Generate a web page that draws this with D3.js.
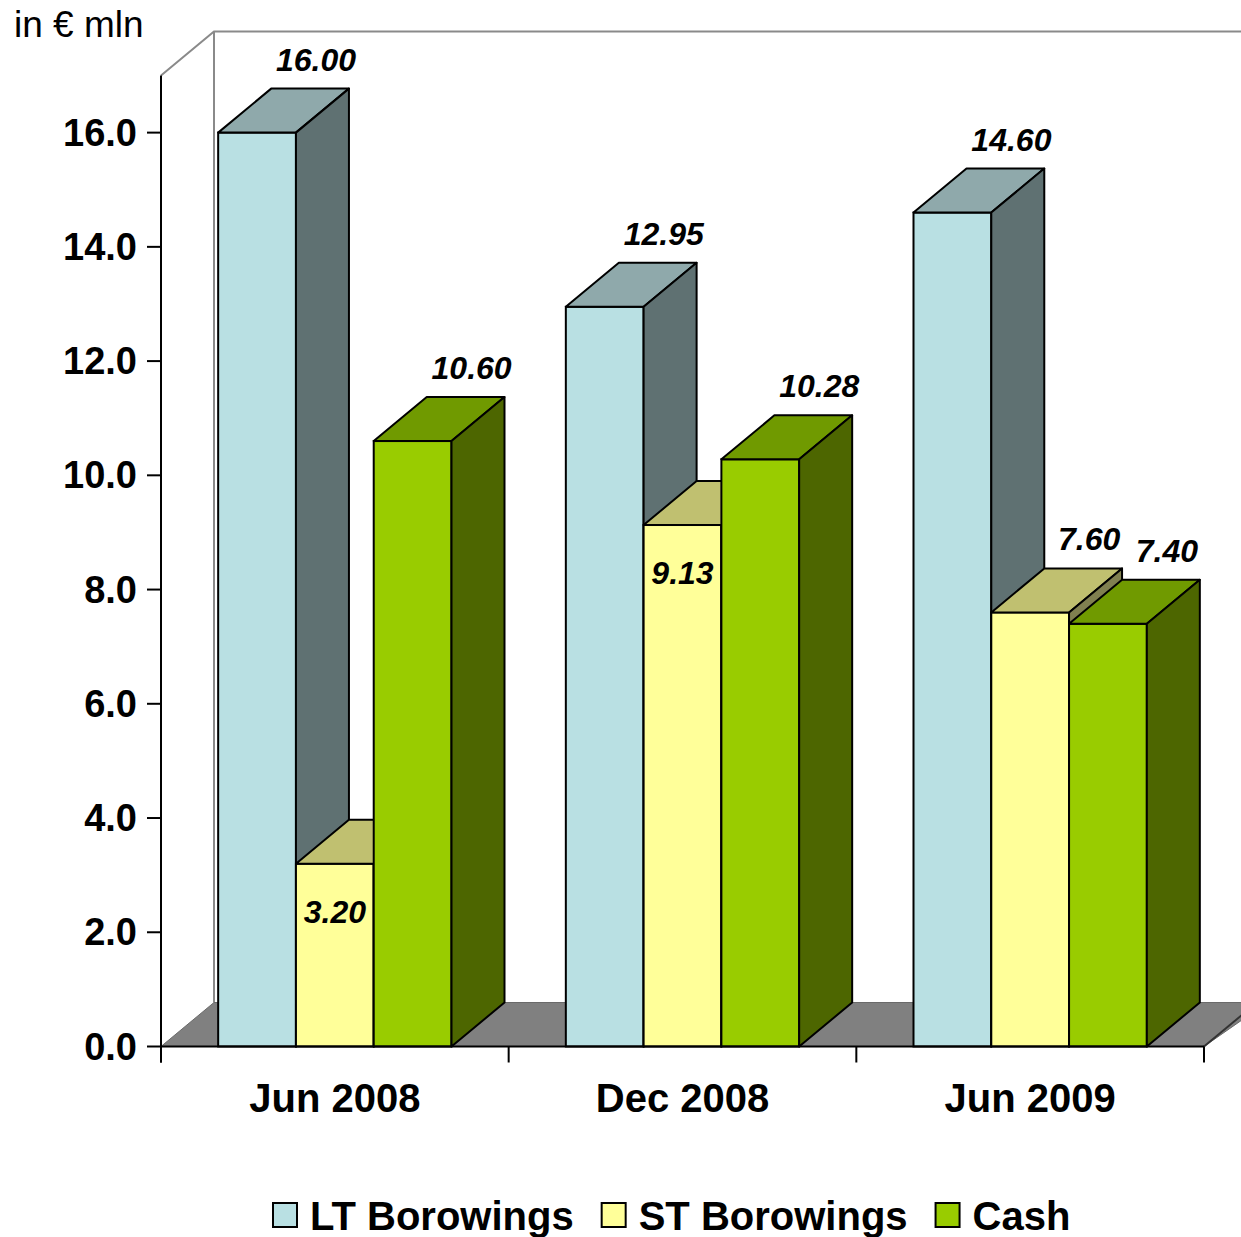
<!DOCTYPE html>
<html>
<head>
<meta charset="utf-8">
<script src="https://cdn.jsdelivr.net/npm/d3@7"></script>
<style>
  html, body { margin: 0; padding: 0; background: #fff; }
  svg { display: block; }
  text { font-family: "Liberation Sans", Arial, Helvetica, sans-serif; }
</style>
</head>
<body>
<svg id="chart" width="1241" height="1237"></svg>
<script>
// ---- data ----
const categories = ["Jun 2008", "Dec 2008", "Jun 2009"];
const seriesNames = ["LT Borowings", "ST Borowings", "Cash"];
const ltBorrowings = [16.00, 12.95, 14.60];
const stBorrowings = [3.20, 9.13, 7.60];
const cash = [10.60, 10.28, 7.40];
const yTicks = [0, 2, 4, 6, 8, 10, 12, 14, 16];
const unitLabel = "in € mln";

const seriesValues = [ltBorrowings, stBorrowings, cash];

// face colours per series: front, top, side
const palette = [
  { front: "#b9e0e3", top: "#8fa9ab", side: "#5f7172" },
  { front: "#ffff99", top: "#c0c070", side: "#808050" },
  { front: "#99cc00", top: "#709a00", side: "#4d6600" }
];

// ---- layout ----
const svg = d3.select("#chart");
const plotLeft = 161, plotRight = 1204, plotBottom = 1046.5, plotTop = 75.5;
const DX = 53, DY = -44;   // depth offset of the 3D extrusion

const y = d3.scaleLinear().domain([0, 17]).range([plotBottom, plotTop]);
const x0 = d3.scaleBand().domain(categories).range([plotLeft, plotRight]).paddingInner(0).paddingOuter(0);
const x1 = d3.scaleBand().domain(seriesNames).range([0, x0.bandwidth()])
  .paddingInner(0).paddingOuter(0.735);

const pts = arr => arr.map(p => p.join(",")).join(" ");

// ---- back wall and floor ----
const wall = svg.append("g");
wall.append("polyline")
  .attr("points", pts([[plotLeft, plotTop], [plotLeft + DX, plotTop + DY], [1260, plotTop + DY]]))
  .attr("fill", "none").attr("stroke", "#8a8a8a").attr("stroke-width", 2);
wall.append("line")
  .attr("x1", plotLeft + DX).attr("x2", plotLeft + DX)
  .attr("y1", plotTop + DY).attr("y2", plotBottom + DY)
  .attr("stroke", "#8a8a8a").attr("stroke-width", 2);

wall.append("polygon")
  .attr("points", pts([[plotLeft, plotBottom], [plotLeft + DX, plotBottom + DY],
                       [plotRight + DX + 10, plotBottom + DY], [plotRight, plotBottom]]))
  .attr("fill", "#808080").attr("stroke", "#6a6a6a").attr("stroke-width", 1);
wall.append("line")
  .attr("x1", plotRight).attr("y1", plotBottom).attr("x2", plotRight + DX).attr("y2", plotBottom + DY)
  .attr("stroke", "#333").attr("stroke-width", 2);

// ---- bars ----
const barsG = svg.append("g");
function drawBar(g, xl, w, v, col) {
  const y0 = y(0), yt = y(v), xr = xl + w;
  // front
  g.append("rect").attr("x", xl).attr("y", yt).attr("width", w).attr("height", y0 - yt)
    .attr("fill", col.front).attr("stroke", "#000").attr("stroke-width", 2);
  // top
  g.append("polygon")
    .attr("points", pts([[xl, yt], [xl + DX, yt + DY], [xr + DX, yt + DY], [xr, yt]]))
    .attr("fill", col.top).attr("stroke", "#000").attr("stroke-width", 2).attr("stroke-linejoin", "round");
  // side
  g.append("polygon")
    .attr("points", pts([[xr, yt], [xr + DX, yt + DY], [xr + DX, y0 + DY], [xr, y0]]))
    .attr("fill", col.side).attr("stroke", "#000").attr("stroke-width", 2).attr("stroke-linejoin", "round");
}

categories.forEach((c, ci) => {
  seriesNames.forEach((s, si) => {
    drawBar(barsG, x0(c) + x1(s), x1.bandwidth(), seriesValues[si][ci], palette[si]);
  });
});

// ---- axes ----
const axisG = svg.append("g");
axisG.append("line").attr("x1", plotLeft).attr("x2", plotLeft).attr("y1", plotTop).attr("y2", plotBottom + 16)
  .attr("stroke", "#000").attr("stroke-width", 2);
axisG.append("line").attr("x1", plotLeft - 1).attr("x2", plotRight).attr("y1", plotBottom).attr("y2", plotBottom)
  .attr("stroke", "#000").attr("stroke-width", 2);

yTicks.forEach(t => {
  axisG.append("line").attr("x1", plotLeft - 14).attr("x2", plotLeft).attr("y1", y(t)).attr("y2", y(t))
    .attr("stroke", "#000").attr("stroke-width", 2);
  axisG.append("text").attr("x", plotLeft - 24).attr("y", y(t) + 13)
    .attr("text-anchor", "end").attr("font-size", 38).attr("font-weight", "bold")
    .text(d3.format(".1f")(t));
});

// category separators below the floor edge
const sepX = categories.map(c => x0(c)).concat([plotRight]);
sepX.forEach(sx => {
  axisG.append("line").attr("x1", sx).attr("x2", sx).attr("y1", plotBottom).attr("y2", plotBottom + 16)
    .attr("stroke", "#000").attr("stroke-width", 2);
});
categories.forEach(c => {
  axisG.append("text").attr("x", x0(c) + x0.bandwidth() / 2).attr("y", 1112)
    .attr("text-anchor", "middle").attr("font-size", 40).attr("font-weight", "bold")
    .text(c);
});

svg.append("text").attr("x", 14).attr("y", 37).attr("font-size", 37).text(unitLabel);

// ---- value labels ----
const labelsG = svg.append("g");
const fmt = d3.format(".2f");
categories.forEach((c, ci) => {
  seriesNames.forEach((s, si) => {
    const v = seriesValues[si][ci];
    const cx = x0(c) + x1(s) + x1.bandwidth() / 2;
    const next = si < seriesNames.length - 1 ? seriesValues[si + 1][ci] : null;
    const inside = next !== null && next > v;   // hidden by the taller bar in front: write on the face
    const t = labelsG.append("text")
      .attr("font-size", 32).attr("font-weight", "bold").attr("font-style", "italic")
      .attr("text-anchor", "middle").text(fmt(v));
    if (inside) {
      t.attr("x", cx).attr("y", y(v) + 59);
    } else {
      t.attr("x", cx + 59).attr("y", y(v) + DY - 18);
    }
  });
});

// ---- legend ----
const legend = svg.append("g");
let lx = 273;
seriesNames.forEach((s, si) => {
  legend.append("rect").attr("x", lx).attr("y", 1203).attr("width", 24).attr("height", 24)
    .attr("fill", palette[si].front).attr("stroke", "#000").attr("stroke-width", 2);
  const t = legend.append("text").attr("x", lx + 37).attr("y", 1230)
    .attr("font-size", 40).attr("font-weight", "bold").text(s);
  lx = lx + 37 + t.node().getComputedTextLength() + 28;
});
</script>
</body>
</html>
